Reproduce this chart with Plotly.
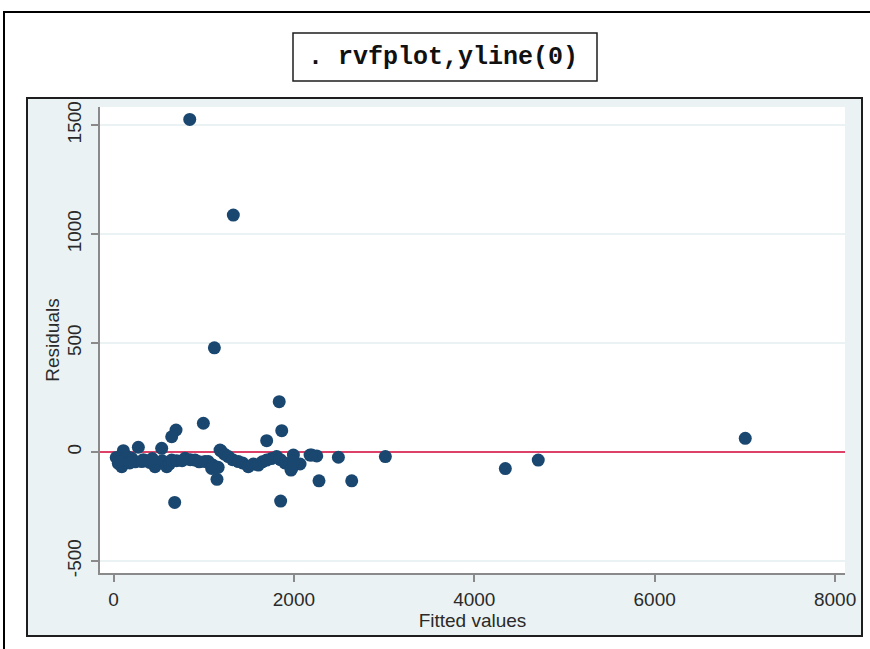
import plotly.graph_objects as go

# Residual-versus-fitted values after the regression
fitted = [
    845, 1328, 1118, 1837, 996, 1865, 693, 645, 1698, 7004,
    275, 534, 109, 1192, 678, 1853, 1147, 2278, 2641, 2493,
    2179, 2253, 1968, 2068, 1994, 3014, 4709, 4344,
    53, 91, 70, 120, 150, 202, 240, 313, 360, 400,
    460, 500, 540, 590, 620, 645, 700, 793, 850, 904,
    950, 1014, 1051, 1088, 1100, 1181, 1230, 1273, 1320, 1384,
    1430, 1494, 1550, 1605, 1650, 1698, 1750, 1809, 1850, 1900,
    1976, 1994, 2197, 30, 60, 180, 330, 430, 760, 1160,
]
residuals = [
    1526, 1087, 478, 231, 132, 98, 101, 70, 52, 63,
    22, 17, 6, 5, -231, -225, -125, -132, -132, -24,
    -14, -18, -83, -55, -14, -21, -37, -76,
    -52, -67, -30, -40, -20, -29, -45, -44, -40, -48,
    -67, -50, -40, -67, -55, -37, -40, -29, -35, -37,
    -45, -44, -44, -75, -60, 9, -10, -21, -35, -44,
    -50, -67, -55, -60, -45, -37, -30, -21, -35, -50,
    -75, -44, -14, -25, -45, -50, -35, -30, -40, -70,
]

x_ticks = [0, 2000, 4000, 6000, 8000]
y_ticks = [-500, 0, 500, 1000, 1500]

W, H = 870, 649
L, R, T, B = 100, 25, 107, 76
PW, PH = W - L - R, H - T - B


def px_x(p):
    return (p - L) / PW


def px_y(p):
    return (H - B - p) / PH


navy = "#1a476f"
axis_grey = "#8a8a8a"
label_font = dict(family="Liberation Sans, Arial, sans-serif", size=19, color="#2a2a2a")

fig = go.Figure(
    go.Scatter(
        x=fitted,
        y=residuals,
        mode="markers",
        marker=dict(color=navy, size=13, line=dict(width=0)),
        showlegend=False,
    )
)

shapes = [
    # outer frame
    dict(type="rect", xref="paper", yref="paper",
         x0=px_x(4), x1=px_x(890), y0=px_y(670), y1=px_y(12),
         line=dict(color="black", width=2), fillcolor="white", layer="below"),
    # graph region
    dict(type="rect", xref="paper", yref="paper",
         x0=px_x(27), x1=px_x(862), y0=px_y(636), y1=px_y(98),
         line=dict(color="#1e1e1e", width=2), fillcolor="#eaf2f3", layer="below"),
    # plot region
    dict(type="rect", xref="paper", yref="paper",
         x0=0, x1=1, y0=0, y1=1,
         line=dict(width=0), fillcolor="white", layer="below"),
    # command box
    dict(type="rect", xref="paper", yref="paper",
         x0=px_x(293), x1=px_x(597), y0=px_y(81), y1=px_y(33),
         line=dict(color="#1e1e1e", width=1.5), fillcolor="white", layer="below"),
]

fig.update_layout(
    width=W,
    height=H,
    margin=dict(l=L, r=R, t=T, b=B, pad=0),
    paper_bgcolor="white",
    plot_bgcolor="white",
    shapes=shapes,
    annotations=[
        dict(
            text=". rvfplot,yline(0)",
            xref="paper", yref="paper",
            x=px_x(443), y=px_y(58),
            xanchor="center", yanchor="middle",
            showarrow=False,
            font=dict(family="Liberation Mono, Courier New, monospace", size=25, color="#111111", weight="bold"),
        )
    ],
    xaxis=dict(
        range=[-150, 8110],
        tickvals=x_ticks,
        ticktext=[str(v) for v in x_ticks],
        showgrid=False,
        zeroline=False,
        showline=True,
        linecolor=axis_grey,
        linewidth=2,
        ticks="outside",
        ticklen=7,
        tickwidth=2,
        tickcolor=axis_grey,
        tickfont=label_font,
        ticklabelstandoff=1,
        title=dict(text="Fitted values", font=label_font, standoff=0),
    ),
    yaxis=dict(
        range=[-555, 1583],
        tickvals=y_ticks,
        ticktext=[str(v) for v in y_ticks],
        tickangle=-90,
        showgrid=True,
        gridcolor="#eaf2f3",
        gridwidth=2,
        zeroline=True,
        zerolinecolor="#de4168",
        zerolinewidth=2,
        showline=True,
        linecolor=axis_grey,
        linewidth=2,
        ticks="outside",
        ticklen=7,
        tickwidth=2,
        tickcolor=axis_grey,
        tickfont=label_font,
        ticklabelstandoff=2,
        title=dict(text="Residuals", font=label_font, standoff=0),
    ),
)

fig.write_html("out.html")
